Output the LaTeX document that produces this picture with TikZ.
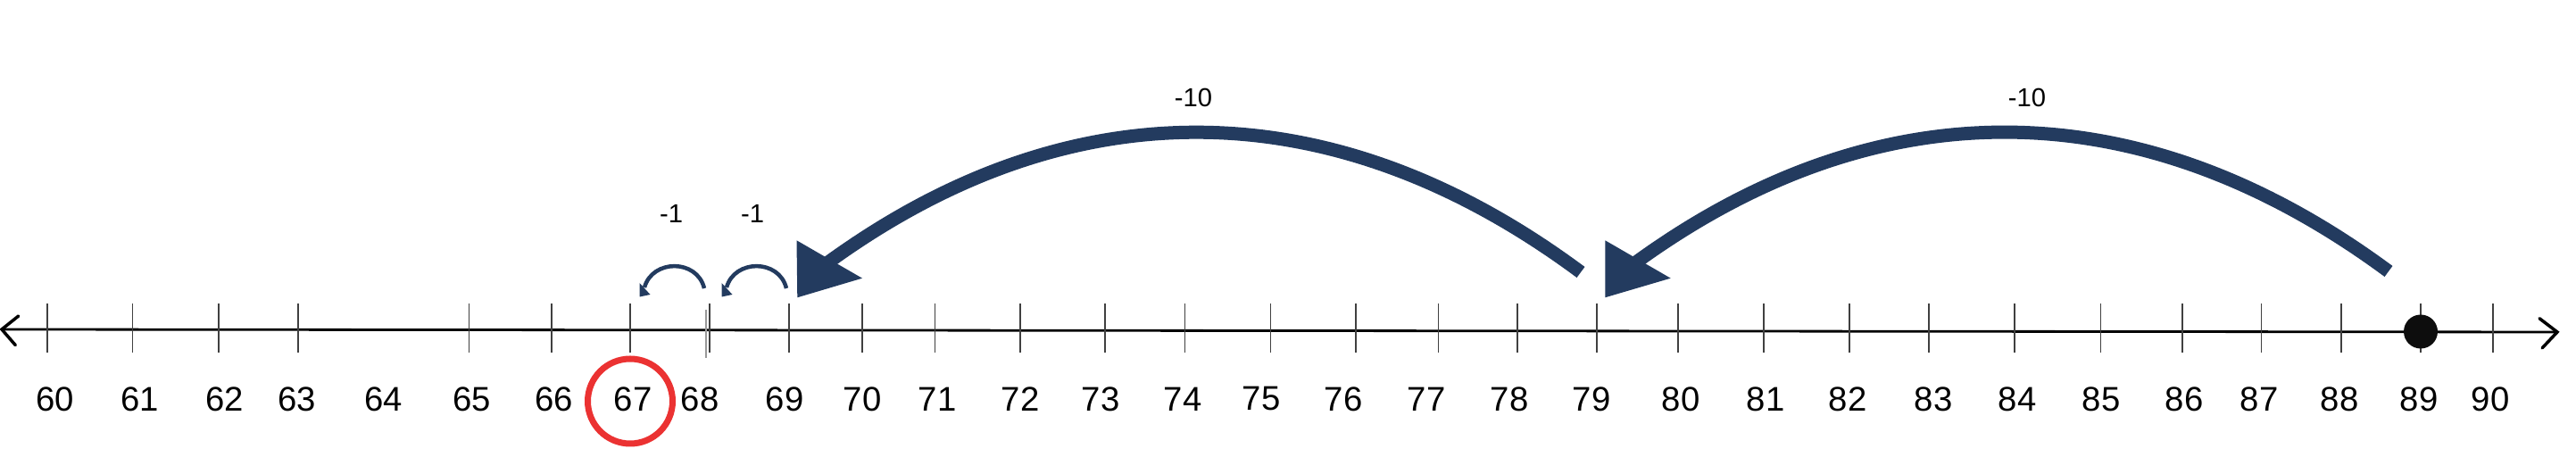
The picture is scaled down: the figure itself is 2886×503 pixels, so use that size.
\documentclass[tikz,border=0pt]{standalone}
\usepackage{fontspec}
\setmainfont{Liberation Sans}
\definecolor{navy}{RGB}{35,59,95}
\definecolor{ringred}{RGB}{235,50,50}
\begin{document}
\begin{tikzpicture}[x=0.1mm,y=-0.1mm,
  tickmark/.style={draw=black!75,line width=0.15mm},
  numlab/.style={font=\fontsize{10.9}{12}\selectfont,inner sep=0pt,anchor=center},
  jumplab/.style={font=\fontsize{8.3}{9}\selectfont,inner sep=0pt,anchor=center},
  bigjump/.style={draw=navy,line width=1.5mm},
  smalljump/.style={draw=navy,line width=0.45mm},
  headfill/.style={fill=navy},
  axisarm/.style={line width=0.35mm,line cap=round,line join=miter}]
\useasboundingbox (0,0) rectangle (2886,503);
% axis
\coordinate (L) at (2,369);
\coordinate (R) at (2865,372);
\draw[line width=0.28mm] (L) -- (R);
\draw[axisarm] (20.7,354) -- (L) -- (17.3,386.7);
\draw[axisarm] (2845,356.7) -- (R) -- (2848,390);
% ticks
\foreach \x in {53,148.5,245,334,525.5,618,706,795,884,966,1047.6,1143,1238,1327.5,1423.6,1519,1611.6,1700,1789,1880,1976,2072,2161,2257,2353.5,2445,2533.6,2623,2712,2793}
  \draw[tickmark] (\x,340) -- (\x,395);
\draw[draw=black!40,line width=0.25mm] (791,347) -- (791,401);
% number labels
\foreach \v/\x in {60/62,61/157,62/252,63/333,64/430,65/529,66/621,67/709,68/784,69/879,70/966,71/1050,72/1143,73/1233,74/1325,75/1413,76/1505,77/1598,78/1691,79/1783,80/1883,81/1978,82/2070,83/2166,84/2260,85/2354,86/2447,87/2531,88/2621,89/2710,90/2790}
  \node[numlab] (n\v) at (\x,447) {\v};
% ring around 67
\node[draw=ringred,line width=0.7mm,circle,minimum size=9.5mm,inner sep=0pt] (ring) at (706,449.5) {};
% start dot at 89
\node[circle,fill=black!95,minimum size=3.8mm,inner sep=0pt] (dot) at (2712,371.5) {};
% big jump 89 -> 79
\coordinate (b2s) at (2676,304);
\coordinate (b2e) at (1830,296);
\draw[bigjump] (b2s) .. controls (2400,100) and (2105,95) .. (b2e);
\coordinate (h2a) at (1798.3,269.3);
\coordinate (h2b) at (1798.3,333.3);
\coordinate (h2c) at (1871.7,311.7);
\fill[headfill] (h2a) -- (h2b) -- (h2c) -- cycle;
% big jump 79 -> 69
\coordinate (b1s) at (1771,305);
\coordinate (b1e) at (925,296);
\draw[bigjump] (b1s) .. controls (1495,100) and (1200,95) .. (b1e);
\coordinate (h1a) at (892.5,269.3);
\coordinate (h1b) at (893.3,333.3);
\coordinate (h1c) at (966,311.7);
\fill[headfill] (h1a) -- (h1b) -- (h1c) -- cycle;
% small jump 69 -> 68
\coordinate (s2s) at (881,323);
\coordinate (s2e) at (814,322);
\draw[smalljump] (s2s) .. controls (873,290) and (823,290) .. (s2e);
\coordinate (k2a) at (808.5,317);
\coordinate (k2b) at (808.7,332.5);
\coordinate (k2c) at (820.5,330);
\fill[headfill] (k2a) -- (k2b) -- (k2c) -- cycle;
% small jump 68 -> 67
\coordinate (s1s) at (789,323);
\coordinate (s1e) at (722,322);
\draw[smalljump] (s1s) .. controls (781,290) and (731,290) .. (s1e);
\coordinate (k1a) at (716.5,317);
\coordinate (k1b) at (716.7,332.5);
\coordinate (k1c) at (728.5,330);
\fill[headfill] (k1a) -- (k1b) -- (k1c) -- cycle;
% jump labels
\node[jumplab] (l10b) at (2271,109) {-10};
\node[jumplab] (l10a) at (1337,109) {-10};
\node[jumplab] (l1b) at (843,239) {-1};
\node[jumplab] (l1a) at (752,239) {-1};
\end{tikzpicture}
\end{document}
